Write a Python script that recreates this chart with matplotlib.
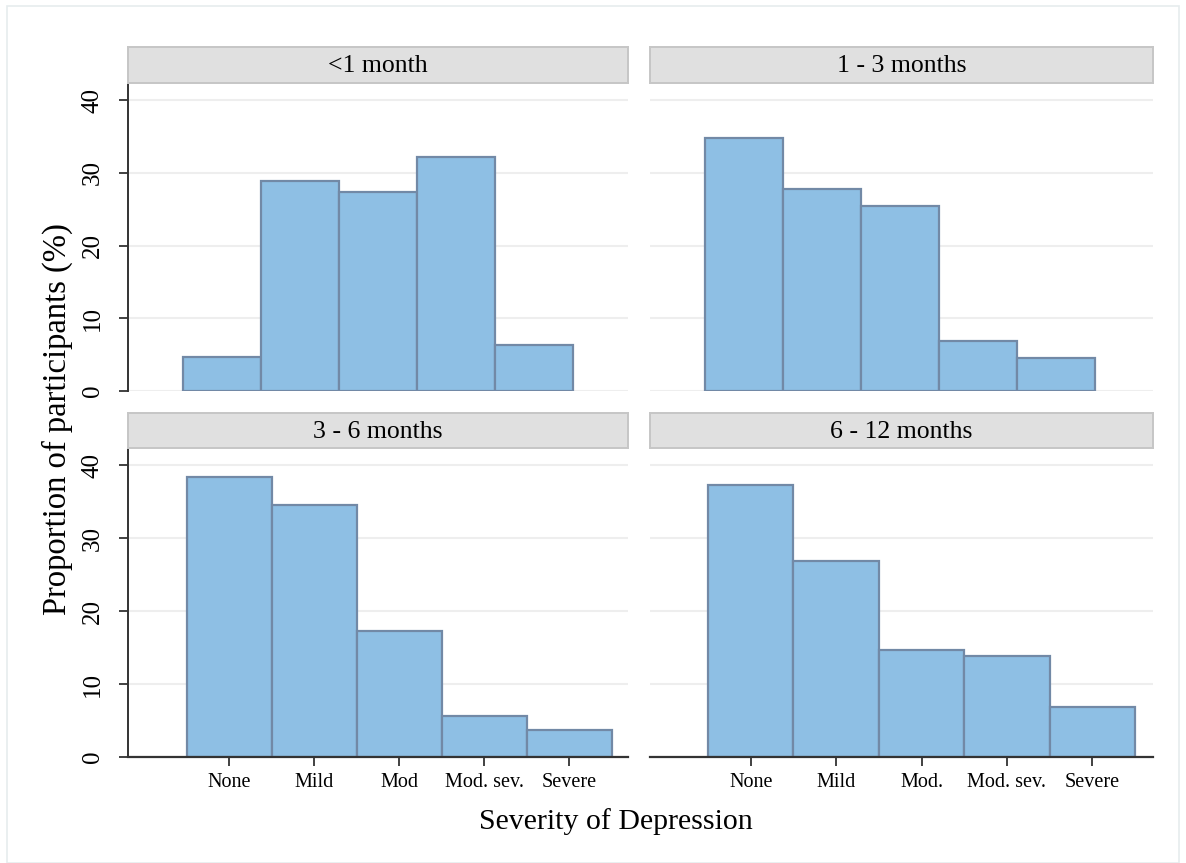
import matplotlib
matplotlib.use("Agg")
import matplotlib.pyplot as plt
from matplotlib.patches import Rectangle

plt.rcParams['font.family'] = ['Liberation Serif', 'DejaVu Serif']

categories = ["None", "Mild", "Mod", "Mod. sev.", "Severe"]
labels_bl = ["None", "Mild", "Mod", "Mod. sev.", "Severe"]
labels_br = ["None", "Mild", "Mod.", "Mod. sev.", "Severe"]
panel_titles = ["<1 month", "1 - 3 months", "3 - 6 months", "6 - 12 months"]
lt1 = [4.7, 28.9, 27.3, 32.2, 6.3]
m1_3 = [34.8, 27.8, 25.4, 6.9, 4.5]
m3_6 = [38.4, 34.5, 17.2, 5.6, 3.7]
m6_12 = [37.3, 26.8, 14.6, 13.8, 6.8]
yticks = [0, 10, 20, 30, 40]

FILL = "#8ebfe4"
EDGE = "#7289a6"
GRID = "#eeeeee"
AX = "#333333"

W, H = 1186, 863
fig = plt.figure(figsize=(W / 100, H / 100), dpi=100)
fig.patch.set_facecolor("white")

# faint outer border
fig.patches.append(Rectangle((7 / W, 0), 1 - 14 / W, 1 - 6 / H, transform=fig.transFigure,
                             fill=False, edgecolor="#e6ecee", linewidth=1.2))

def fx(px):
    return px / W

def fy(py):
    return 1 - py / H

panels = [
    dict(data=lt1, x0=128, x1=628, y0=84, y1=391, s0=47, s1=83, row=0, col=0, xlim=(-0.2, 6.2)),
    dict(data=m1_3, x0=650, x1=1153, y0=84, y1=391, s0=47, s1=83, row=0, col=1, xlim=(-0.2, 6.24)),
    dict(data=m3_6, x0=128, x1=628, y0=449, y1=757, s0=413, s1=448, row=1, col=0, xlim=(-0.19, 5.69), labels=labels_bl),
    dict(data=m6_12, x0=650, x1=1153, y0=449, y1=757, s0=413, s1=448, row=1, col=1, xlim=(-0.18, 5.71), labels=labels_br),
]

xs = list(range(1, len(categories) + 1))
for i, p in enumerate(panels):
    ax = fig.add_axes([fx(p["x0"]), fy(p["y1"]), fx(p["x1"] - p["x0"]), (p["y1"] - p["y0"]) / H])
    ax.set_facecolor("white")
    ax.set_xlim(*p["xlim"])
    ax.set_ylim(0, 42.2)
    for t in yticks:
        ax.axhline(t, color=GRID, linewidth=1.5, zorder=0)
    ax.bar(xs, p["data"], width=1.0, color=FILL, edgecolor=EDGE, linewidth=1.6, zorder=2)
    for s in ["top", "right"]:
        ax.spines[s].set_visible(False)
    ax.spines["left"].set_visible(p["col"] == 0)
    ax.spines["bottom"].set_visible(p["row"] == 1)
    ax.spines["left"].set_color(AX)
    ax.spines["bottom"].set_color(AX)
    ax.spines["left"].set_linewidth(1.4)
    ax.spines["bottom"].set_linewidth(1.6)
    if p["col"] == 0:
        ax.set_yticks(yticks)
        ax.set_yticklabels([str(t) for t in yticks], rotation=90, va="center", fontsize=18)
        ax.tick_params(axis="y", length=6.5, width=1.3, color=AX, pad=11)
    else:
        ax.set_yticks([])
    if p["row"] == 1:
        ax.set_xticks(xs)
        ax.set_xticklabels(p["labels"], fontsize=14.5)
        ax.tick_params(axis="x", length=6.5, width=1.3, color=AX, pad=5)
    else:
        ax.set_xticks([])
    # strip
    sax = fig.add_axes([fx(p["x0"]), fy(p["s1"]), fx(p["x1"] - p["x0"]), (p["s1"] - p["s0"]) / H])
    sax.set_xticks([])
    sax.set_yticks([])
    sax.set_facecolor("#e0e0e0")
    for s in sax.spines.values():
        s.set_color("#c6c6c6")
        s.set_linewidth(1.4)
    sax.text(0.5, 0.47, panel_titles[i], ha="center", va="center", fontsize=18.5,
             transform=sax.transAxes)

fig.text(fx(57), fy(419), "Proportion of participants (%)", rotation=90,
         ha="center", va="center", fontsize=23.5)
fig.text(fx(616), fy(822), "Severity of Depression", ha="center", va="center", fontsize=21.5)

fig.savefig("out.png", dpi=100)
